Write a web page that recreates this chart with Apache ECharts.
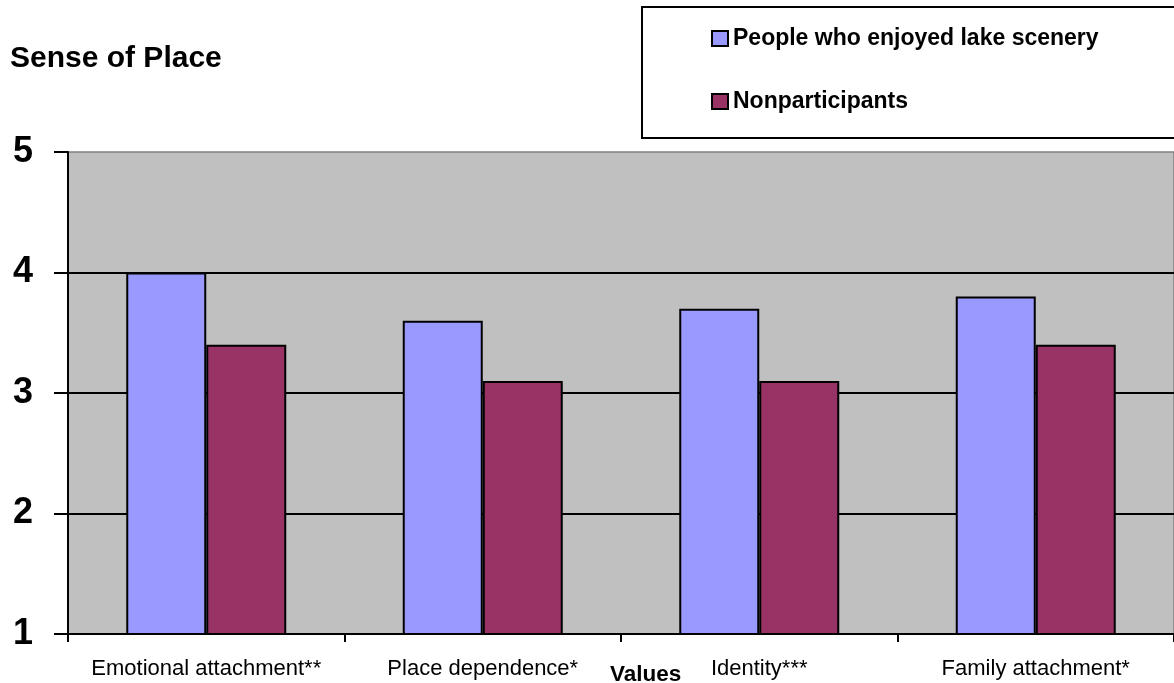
<!DOCTYPE html>
<html>
<head>
<meta charset="utf-8">
<script src="https://cdn.jsdelivr.net/npm/echarts@6/dist/echarts.min.js"></script>
<style>
  html, body { margin: 0; padding: 0; background: #fff; }
  #chart { width: 1174px; height: 683px; }
</style>
</head>
<body>
<div id="chart"></div>
<script>
const categories = ['Emotional attachment**', 'Place dependence*', 'Identity***', 'Family attachment*'];
const seriesNames = ['People who enjoyed lake scenery', 'Nonparticipants'];
const lakeScenery = [4.0, 3.6, 3.7, 3.8];
const nonparticipants = [3.4, 3.1, 3.1, 3.4];
const yTicks = [1, 2, 3, 4, 5];

const FONT = '"Liberation Sans", Arial, sans-serif';
const chart = echarts.init(document.getElementById('chart'), null, { renderer: 'canvas' });

chart.setOption({
  animation: false,
  backgroundColor: '#ffffff',
  title: {
    text: 'Sense of Place',
    left: 10,
    top: 44,
    padding: 0,
    textStyle: { fontFamily: FONT, fontSize: 30, fontWeight: 'bold', color: '#000' }
  },
  legend: {
    data: seriesNames,
    orient: 'vertical',
    left: 642,
    top: 7,
    padding: [20, 100, 25, 69],
    itemGap: 40,
    itemWidth: 16,
    itemHeight: 15,
    icon: 'rect',
    borderColor: '#000',
    borderWidth: 2,
    backgroundColor: '#fff',
    textStyle: { fontFamily: FONT, fontSize: 23, fontWeight: 'bold', color: '#000' }
  },
  grid: {
    left: 68,
    right: 0,
    top: 152,
    bottom: 49,
    show: true,
    backgroundColor: '#c0c0c0',
    borderColor: '#808080',
    borderWidth: 1.5
  },
  xAxis: {
    type: 'category',
    data: categories,
    axisLine: { lineStyle: { color: '#000', width: 2 } },
    axisTick: { show: true, length: 8, lineStyle: { color: '#000', width: 2 } },
    axisLabel: { margin: 24, fontFamily: FONT, fontSize: 22, color: '#000', interval: 0 },
    splitLine: { show: false }
  },
  yAxis: {
    type: 'value',
    min: yTicks[0],
    max: yTicks[yTicks.length - 1],
    interval: 1,
    axisLine: { show: true, lineStyle: { color: '#000', width: 2 } },
    axisTick: { show: true, length: 14, lineStyle: { color: '#000', width: 2 } },
    axisLabel: { margin: 35, fontFamily: FONT, fontSize: 36, fontWeight: 'bold', color: '#000' },
    splitLine: { show: true, showMinLine: false, showMaxLine: false, lineStyle: { color: '#000', width: 2 } }
  },
  graphic: [{
    type: 'text',
    left: 610,
    top: 663,
    style: { text: 'Values', font: 'bold 22.5px ' + FONT, fill: '#000' }
  }],
  series: [
    {
      name: seriesNames[0],
      type: 'bar',
      data: lakeScenery,
      barWidth: 80,
      barGap: '0%',
      itemStyle: { color: '#9999ff', borderColor: '#000', borderWidth: 2 }
    },
    {
      name: seriesNames[1],
      type: 'bar',
      data: nonparticipants,
      barWidth: 80,
      barGap: '0%',
      itemStyle: { color: '#993366', borderColor: '#000', borderWidth: 2 }
    }
  ]
});
</script>
</body>
</html>
